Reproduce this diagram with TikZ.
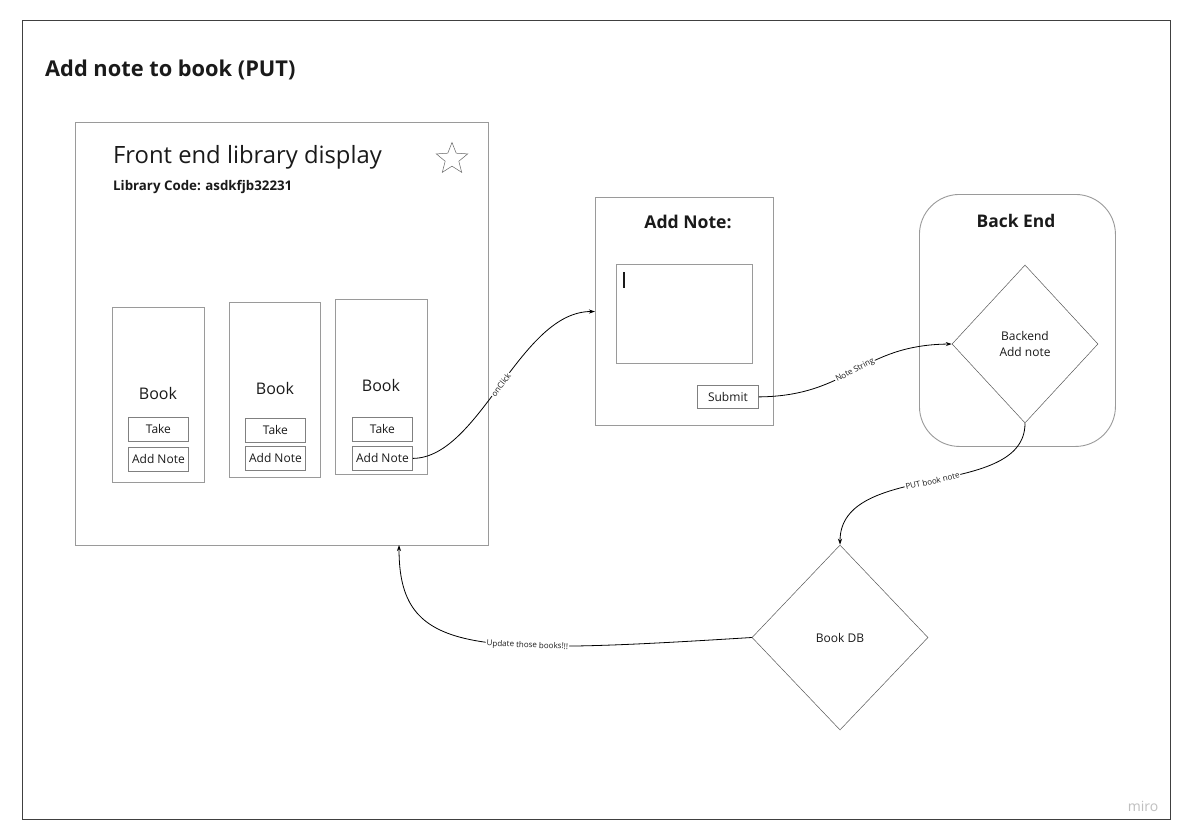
\documentclass[tikz,border=0pt]{standalone}
\usepackage{fontspec}
\setmainfont{Open Sans}
\usetikzlibrary{shapes.geometric,arrows.meta}
\definecolor{boxgray}{HTML}{9A9A9A}
\definecolor{btngray}{HTML}{808080}
\definecolor{txt}{HTML}{1A1A1A}
\begin{document}
\begin{tikzpicture}[x=1pt,y=-1pt,
  rectbox/.style={draw=boxgray, line width=1.1pt, inner sep=0pt, anchor=north west},
  btn/.style={draw=btngray, line width=0.8pt, inner sep=0pt, anchor=north west, minimum width=60pt, minimum height=24pt, font=\fontsize{12}{14}\selectfont, text=txt},
  dia/.style={draw=black!65, line width=0.5pt, diamond, inner sep=0pt, align=center, text=txt, font=\fontsize{12}{16}\selectfont},
  conn/.style={draw=black, line width=0.8pt, -{Stealth[length=6pt,width=4pt]}},
  lbl/.style={fill=white, inner sep=1pt, sloped, font=\fontsize{8}{9}\selectfont, text=txt},
  booklbl/.style={font=\fontsize{16}{18}\selectfont, text=txt}]
\useasboundingbox (0,0) rectangle (1189,840);
\fill[white] (0,0) rectangle (1189,840);
% outer frame
\node[draw=black!75, line width=1.4pt, inner sep=0pt, anchor=north west, minimum width=1148pt, minimum height=799pt] (frame) at (22,20) {};
\node[anchor=west, inner sep=0pt, font=\bfseries\fontsize{21.8}{25}\selectfont, text=txt] (title) at (45,70) {Add note to book (PUT)};
% front end
\node[rectbox, minimum width=413pt, minimum height=423pt] (frontend) at (75,122) {};
\node[anchor=west, font=\fontsize{23.8}{27}\selectfont, text=txt, inner sep=0pt] (fetitle) at (113,157) {Front end library display};
\node[anchor=west, font=\bfseries\fontsize{13.3}{15}\selectfont, text=txt, inner sep=0pt] (libcode) at (113,187) {Library Code: asdkfjb32231};
\node[draw=black!60, line width=0.5pt, star, star points=5, star point ratio=2.3, minimum size=33pt, inner sep=0pt] (star) at (452,159) {};
% book cards
\node[rectbox, minimum width=92pt, minimum height=175pt] (card1) at (112,307) {};
\node[rectbox, minimum width=91pt, minimum height=175pt] (card2) at (229,302) {};
\node[rectbox, minimum width=92pt, minimum height=175pt] (card3) at (335,299) {};
\node[booklbl] (book1) at (158,393) {Book};
\node[booklbl] (book2) at (275,388) {Book};
\node[booklbl] (book3) at (381,385) {Book};
\node[btn] (take1) at (128,417) {Take};
\node[btn] (take2) at (245,418) {Take};
\node[btn] (take3) at (352,417) {Take};
\node[btn] (add1) at (128,447) {Add Note};
\node[btn] (add2) at (245,446) {Add Note};
\node[btn] (add3) at (352,446) {Add Note};
% add note panel
\node[rectbox, minimum width=178pt, minimum height=228pt] (panel) at (595,197) {};
\node[font=\bfseries\fontsize{17.6}{20}\selectfont, text=txt] (paneltitle) at (688,222) {Add Note:};
\node[rectbox, minimum width=136pt, minimum height=99pt] (textarea) at (616,264) {};
\draw[txt, line width=1.4pt] (624,272) -- (624,288);
\node[btn, minimum width=61pt, minimum height=23pt] (submit) at (697,385) {Submit};
% back end
\node[draw=boxgray, line width=0.9pt, rounded corners=40pt, inner sep=0pt, anchor=north west, minimum width=196pt, minimum height=252pt] (backend) at (919,194) {};
\node[font=\bfseries\fontsize{17.4}{20}\selectfont, text=txt] (betitle) at (1016,221) {Back End};
\node[dia, minimum width=146pt, minimum height=158pt] (bdia) at (1025,344) {Backend\\Add note};
\node[dia, minimum width=176pt, minimum height=185pt] (bookdb) at (840,637.5) {Book DB};
\coordinate (fein) at (399,545);
% connectors
\draw[conn] (add3.east) .. controls (480,458) and (520,311) .. node[lbl, pos=0.5] {onClick} (panel.west);
\draw[conn] (submit.east) .. controls (850,396) and (860,345) .. node[lbl, pos=0.5] {Note String} (bdia.west);
\draw[conn] (bdia.south) .. controls (1025,500) and (840,460) .. node[lbl, pos=0.5] {PUT book note} (bookdb.north);
\draw[conn] (bookdb.west) .. controls (470,655) and (399,655) .. node[lbl, pos=0.35] {Update those books!!!} (fein);
\node[text=black!25, font=\fontsize{14}{16}\selectfont] (miro) at (1143,806) {miro};
\end{tikzpicture}
\end{document}
